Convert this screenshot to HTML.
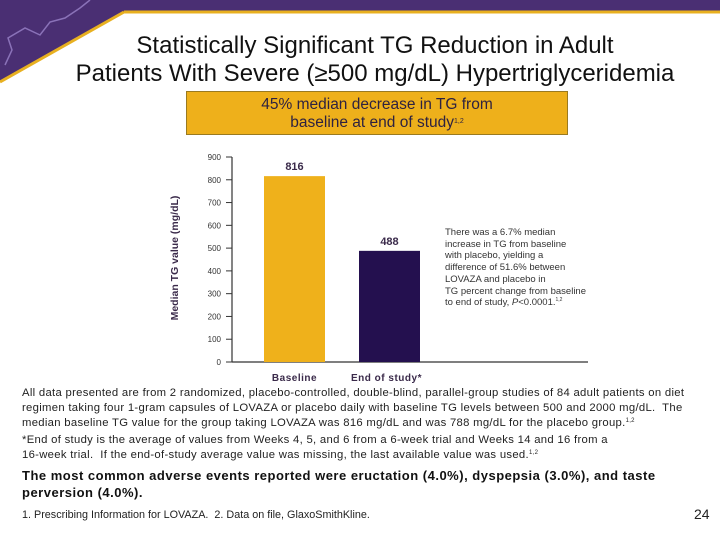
<!DOCTYPE html>
<html><head><meta charset="utf-8"><style>
body{margin:0;width:720px;height:540px;background:#fff;position:relative;overflow:hidden;font-family:"Liberation Sans",sans-serif;}
.abs{position:absolute;}
sup{line-height:0;vertical-align:4px;}
.t{color:#222;font-size:11.3px;letter-spacing:0.3px;line-height:15px;white-space:nowrap;}
</style></head><body>
<svg class="abs" style="left:0;top:0" width="720" height="90">
<polygon points="0,0 720,0 720,12 124,12 0,82" fill="#4a2f73"/>
<polyline points="124,12 720,12" stroke="#e8b020" stroke-width="3"/>
<polyline points="124,12 0,82" stroke="#e8b020" stroke-width="3"/>
<polyline points="5,65 12,50 8,38 25,28 40,35 50,22 65,18 80,8 90,0" fill="none" stroke="#a58ed6" stroke-width="1.5" opacity="0.7"/>
</svg>
<div class="abs" style="left:0;width:750px;top:32px;text-align:center;font-size:24px;line-height:28px;color:#111;">Statistically Significant TG Reduction in Adult<br>Patients With Severe (≥500 mg/dL) Hypertriglyceridemia</div>
<div class="abs" style="left:186px;top:91px;width:382px;height:44px;background:#eeb01b;border:1px solid #9a7a20;box-sizing:border-box;text-align:center;color:#2e2240;font-size:15.5px;line-height:18px;padding-top:4px;">45% median decrease in TG from<br>baseline at end of study<sup style="font-size:7px">1,2</sup></div>
<svg class="abs" id="chart" style="left:0;top:0" width="720" height="390"></svg>
<div class="abs" style="left:445px;top:227px;font-size:9.5px;line-height:11.7px;color:#333;white-space:nowrap;">There was a 6.7% median<br>increase in TG from baseline<br>with placebo, yielding a<br>difference of 51.6% between<br>LOVAZA and placebo in<br>TG percent change from baseline<br>to end of study, <i>P</i>&lt;0.0001.<sup style="font-size:5px">1,2</sup></div>
<div class="abs t" style="left:22px;top:386px;">All data presented are from 2 randomized, placebo-controlled, double-blind, parallel-group studies of 84 adult patients on diet<br>regimen taking four 1-gram capsules of LOVAZA or placebo daily with baseline TG levels between 500 and 2000 mg/dL.&nbsp; The<br>median baseline TG value for the group taking LOVAZA was 816 mg/dL and was 788 mg/dL for the placebo group.<sup style="font-size:6px">1,2</sup></div>
<div class="abs t" style="left:22px;top:433px;">*End of study is the average of values from Weeks 4, 5, and 6 from a 6-week trial and Weeks 14 and 16 from a<br>16-week trial.&nbsp; If the end-of-study average value was missing, the last available value was used.<sup style="font-size:6px">1,2</sup></div>
<div class="abs" style="left:22px;top:467px;font-size:13px;letter-spacing:0.5px;line-height:17px;font-weight:bold;color:#111;white-space:nowrap;">The most common adverse events reported were eructation (4.0%), dyspepsia (3.0%), and taste<br>perversion (4.0%).</div>
<div class="abs" style="left:22px;top:509px;font-size:10.8px;color:#222;">1. Prescribing Information for LOVAZA.&nbsp; 2. Data on file, GlaxoSmithKline.</div>
<div class="abs" style="left:694px;top:506px;font-size:14px;color:#222;">24</div>
<script>
const categories=["Baseline","End of study*"];
const values=[816,488];
const ticks=[0,100,200,300,400,500,600,700,800,900];
const colors=["#efb11b","#24104f"];
const svg=document.getElementById('chart');const NS='http://www.w3.org/2000/svg';
function y(v){return 362-v*(205/900);}
const bx0=[264,359],bw=61;
function el(t,a,txt){const e=document.createElementNS(NS,t);for(const k in a)e.setAttribute(k,a[k]);if(txt!==undefined)e.textContent=txt;svg.appendChild(e);return e;}
let ax=el('line',{x1:232,y1:y(0),x2:588,y2:y(0),stroke:'#333','stroke-width':1.2});


let ay=el('line',{x1:232,y1:y(0),x2:232,y2:y(900),stroke:'#333','stroke-width':1.2});


ticks.forEach(t=>{
 let l=el('line',{x1:226,y1:y(t),x2:232,y2:y(t),stroke:'#333'});
 
 
 let tx=el('text',{x:221,y:y(t)+3,'text-anchor':'end','font-size':8,fill:'#333','font-family':'Liberation Sans'},t);
 
 
});
values.forEach((v,i)=>{
 let r=el('rect',{x:bx0[i],y:y(v),width:bw,height:y(0)-y(v),fill:colors[i]});
 
 
 let vl=el('text',{x:bx0[i]+bw/2,y:y(v)-6,'text-anchor':'middle','font-size':11,'font-weight':'bold',fill:'#3a2a4a','font-family':'Liberation Sans'},v);
 
 
 let cl=el('text',{x:bx0[i]+bw/2-(i?3:0),y:381,'text-anchor':'middle','font-size':10,'font-weight':'bold',fill:'#3a2a4a','font-family':'Liberation Sans','letter-spacing':0.5},categories[i]);
 
 
});
let yt=el('text',{x:0,y:0,transform:'translate(178,258) rotate(-90)','text-anchor':'middle','font-size':10.5,'font-weight':'bold',fill:'#3a2a4a','font-family':'Liberation Sans'},'Median TG value (mg/dL)');


</script>
</body></html>
